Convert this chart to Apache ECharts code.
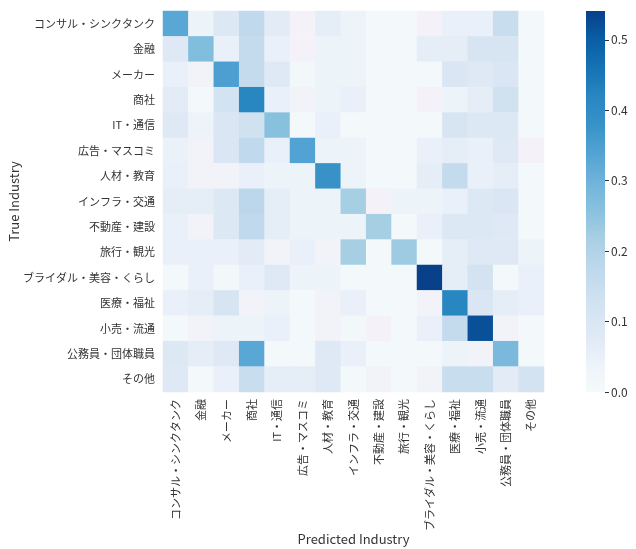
<!DOCTYPE html>
<html>
<head>
<meta charset="utf-8">
<script src="https://cdn.jsdelivr.net/npm/echarts@6/dist/echarts.min.js"></script>
<style>
  html, body { margin: 0; padding: 0; background: #fff; }
  #chart { width: 636px; height: 549px; }
</style>
</head>
<body>
<div id="chart"></div>
<script>
// Industry labels (rows = true class, columns = predicted class)
const industries = [
  'コンサル・シンクタンク', '金融', 'メーカー', '商社', 'IT・通信',
  '広告・マスコミ', '人材・教育', 'インフラ・交通', '不動産・建設', '旅行・観光',
  'ブライダル・美容・くらし', '医療・福祉', '小売・流通', '公務員・団体職員', 'その他'
];

// Row-normalised confusion matrix, one array per true industry
const rowConsult  = [0.33, 0.04, 0.09, 0.17, 0.07, 0.025, 0.06, 0.04, 0.01, 0.01, 0.025, 0.05, 0.05, 0.15, 0.01];
const rowFinance  = [0.08, 0.27, 0.05, 0.16, 0.05, 0.025, 0.04, 0.04, 0.01, 0.01, 0.06, 0.06, 0.11, 0.11, 0.01];
const rowMaker    = [0.05, 0.03, 0.35, 0.16, 0.08, 0.015, 0.04, 0.04, 0.01, 0.01, 0.01, 0.10, 0.08, 0.10, 0.01];
const rowTrading  = [0.07, 0.005, 0.12, 0.42, 0.05, 0.03, 0.04, 0.05, 0.01, 0.01, 0.025, 0.04, 0.06, 0.13, 0.01];
const rowIT       = [0.08, 0.04, 0.10, 0.13, 0.26, 0.01, 0.05, 0.01, 0.01, 0.01, 0.01, 0.11, 0.09, 0.09, 0.01];
const rowMedia    = [0.045, 0.03, 0.10, 0.17, 0.05, 0.34, 0.04, 0.04, 0.01, 0.01, 0.05, 0.06, 0.05, 0.08, 0.025];
const rowHR       = [0.05, 0.03, 0.03, 0.05, 0.04, 0.04, 0.38, 0.04, 0.01, 0.01, 0.06, 0.16, 0.05, 0.06, 0.01];
const rowInfra    = [0.06, 0.06, 0.09, 0.18, 0.06, 0.04, 0.04, 0.22, 0.025, 0.04, 0.04, 0.05, 0.09, 0.10, 0.01];
const rowRealty   = [0.05, 0.03, 0.09, 0.17, 0.06, 0.04, 0.04, 0.04, 0.22, 0.01, 0.05, 0.09, 0.09, 0.08, 0.01];
const rowTravel   = [0.05, 0.05, 0.05, 0.07, 0.03, 0.05, 0.03, 0.22, 0.01, 0.23, 0.01, 0.06, 0.08, 0.08, 0.04];
const rowBridal   = [0.01, 0.05, 0.015, 0.05, 0.08, 0.04, 0.04, 0.01, 0.01, 0.01, 0.541, 0.06, 0.12, 0.01, 0.05];
const rowMedical  = [0.05, 0.06, 0.11, 0.03, 0.04, 0.01, 0.03, 0.05, 0.01, 0.01, 0.03, 0.42, 0.10, 0.06, 0.05];
const rowRetail   = [0.01, 0.03, 0.04, 0.04, 0.05, 0.01, 0.03, 0.015, 0.025, 0.01, 0.05, 0.16, 0.52, 0.03, 0.01];
const rowPublic   = [0.09, 0.06, 0.08, 0.33, 0.01, 0.01, 0.08, 0.05, 0.01, 0.01, 0.01, 0.04, 0.03, 0.28, 0.01];
const rowOther    = [0.08, 0.01, 0.05, 0.15, 0.06, 0.06, 0.08, 0.01, 0.03, 0.01, 0.03, 0.15, 0.15, 0.07, 0.12];

const matrix = [
  rowConsult, rowFinance, rowMaker, rowTrading, rowIT, rowMedia, rowHR, rowInfra,
  rowRealty, rowTravel, rowBridal, rowMedical, rowRetail, rowPublic, rowOther
];

// Colour bar range and ticks
const scaleMax = 0.541;
const colorbarTicks = [0.0, 0.1, 0.2, 0.3, 0.4, 0.5];

// Colour ramp stops: [value, colour]
const rampStops = [
  [0.000, '#f4fafc'], [0.015, '#f2f7fa'], [0.025, '#f4f2f8'], [0.035, '#eef4f9'],
  [0.050, '#e9f0f9'], [0.070, '#e2ebf6'], [0.100, '#dae6f4'], [0.130, '#d0e2f0'],
  [0.160, '#c4dbed'], [0.180, '#bcd7eb'], [0.220, '#a7cfe3'], [0.260, '#87c1de'],
  [0.300, '#6fb2da'], [0.340, '#52a3d3'], [0.380, '#3892c8'], [0.420, '#2886c1'],
  [0.460, '#1673b4'], [0.500, '#0a5fa5'], [0.541, '#08408a']
];
// The bar legend uses the smooth part of the ramp (the faint violet band is very narrow)
const barStops = rampStops.filter(([v]) => v !== 0.025);

function hexToRgb(h) {
  return [parseInt(h.slice(1, 3), 16), parseInt(h.slice(3, 5), 16), parseInt(h.slice(5, 7), 16)];
}
function rampAt(v) {
  for (let i = 1; i < rampStops.length; i++) {
    if (v <= rampStops[i][0]) {
      const [v0, c0] = rampStops[i - 1];
      const [v1, c1] = rampStops[i];
      const t = (v - v0) / (v1 - v0);
      const a = hexToRgb(c0), b = hexToRgb(c1);
      const m = a.map((x, k) => Math.round(x + (b[k] - x) * t));
      return 'rgb(' + m.join(',') + ')';
    }
  }
  return rampStops[rampStops.length - 1][1];
}
// Evenly spaced colour list for the visualMap
const rampColors = [];
const rampSteps = 216;
for (let i = 0; i <= rampSteps; i++) rampColors.push(rampAt(scaleMax * i / rampSteps));

const heatData = [];
matrix.forEach((row, r) => row.forEach((v, c) => heatData.push([c, r, v])));

const font = 'Noto Sans CJK JP';
const textColor = '#333';

const chart = echarts.init(document.getElementById('chart'));
chart.setOption({
  backgroundColor: '#fff',
  animation: false,
  textStyle: { fontFamily: font },
  grid: [
    { left: 163, top: 11, width: 381, height: 381, outerBoundsMode: 'none' },
    { left: 586, top: 11, width: 19, height: 381, outerBoundsMode: 'none' }
  ],
  xAxis: [
    {
      type: 'category', gridIndex: 0, data: industries,
      name: 'Predicted Industry', nameLocation: 'middle', nameGap: 141, nameMoveOverlap: false,
      nameTextStyle: { fontSize: 13, color: textColor, fontFamily: font },
      axisLine: { show: false },
      axisTick: { show: false },
      axisLabel: { rotate: 90, interval: 0, fontSize: 11, color: textColor, margin: 7, fontFamily: font },
      splitLine: { show: false }
    },
    {
      type: 'category', gridIndex: 1, data: [''],
      show: false
    }
  ],
  yAxis: [
    {
      type: 'category', gridIndex: 0, data: industries, inverse: true,
      name: 'True Industry', nameLocation: 'middle', nameGap: 142, nameRotate: 90, nameMoveOverlap: false,
      nameTextStyle: { fontSize: 13, color: textColor, fontFamily: font },
      axisLine: { show: false },
      axisTick: { show: false },
      axisLabel: { interval: 0, fontSize: 11, color: textColor, margin: 8, fontFamily: font },
      splitLine: { show: false }
    },
    {
      type: 'value', gridIndex: 1, position: 'right',
      min: 0, max: scaleMax, interval: 0.1,
      axisLine: { show: false },
      axisTick: { show: true, length: 4, lineStyle: { color: textColor } },
      axisLabel: {
        fontSize: 12, color: textColor, margin: 6, showMaxLabel: false,
        formatter: v => colorbarTicks.some(t => Math.abs(t - v) < 1e-9) ? v.toFixed(1) : ''
      },
      splitLine: { show: false }
    }
  ],
  visualMap: {
    show: false, type: 'continuous', seriesIndex: 0, dimension: 2,
    min: 0, max: scaleMax, inRange: { color: rampColors }
  },
  series: [
    {
      type: 'heatmap', xAxisIndex: 0, yAxisIndex: 0,
      data: heatData, silent: true
    },
    {
      type: 'bar', xAxisIndex: 1, yAxisIndex: 1, silent: true,
      barWidth: '100%', data: [scaleMax],
      itemStyle: {
        color: new echarts.graphic.LinearGradient(0, 1, 0, 0,
          barStops.map(([v, c]) => ({ offset: v / scaleMax, color: c })))
      }
    }
  ]
});
</script>
</body>
</html>
